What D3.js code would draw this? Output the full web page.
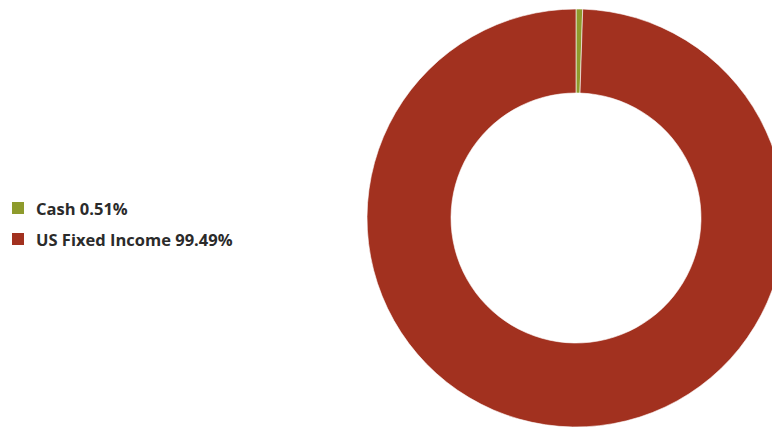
<!DOCTYPE html>
<html lang="en">
<head>
  <meta charset="UTF-8">
  <title>Asset Allocation</title>
  <script src="https://d3js.org/d3.v7.min.js"></script>
  <style>
    body { margin: 0; background: #fff; }
    .slice path { stroke: #fff; stroke-width: 0.6; }
    .legend text { font-family: "Open Sans", sans-serif; font-weight: 700; font-size: 16.5px; fill: #2b2b2b; }
  </style>
</head>
<body>
  <svg id="chart" width="772" height="427"></svg>

  <script>
    // Data
    const labels = ["Cash", "US Fixed Income"];
    const values = [0.51, 99.49];
    const colors = ["#8e9b2c", "#a2311f"];

    const width = 772;
    const height = 427;
    const cx = 576, cy = 218;
    const outerR = 209, innerR = 125;

    const svg = d3.select("#chart")
      .attr("width", width)
      .attr("height", height);

    const pie = d3.pie().sort(null).value((d) => d);
    const arc = d3.arc().innerRadius(innerR).outerRadius(outerR);

    // Donut
    svg.append("g")
      .attr("class", "slice")
      .attr("transform", "translate(" + cx + "," + cy + ")")
      .selectAll("path")
      .data(pie(values))
      .enter()
      .append("path")
      .attr("d", arc)
      .style("fill", (d, i) => colors[i]);

    // Legend
    const legend = svg.append("g")
      .attr("class", "legend")
      .attr("transform", "translate(12,202)");

    const item = legend.selectAll("g")
      .data(labels)
      .enter()
      .append("g")
      .attr("transform", (d, i) => "translate(0," + i * 31 + ")");

    item.append("rect")
      .attr("width", 12)
      .attr("height", 12)
      .style("fill", (d, i) => colors[i]);

    item.append("text")
      .attr("x", 24)
      .attr("y", 13)
      .text((d, i) => d + " " + values[i].toFixed(2) + "%");
  </script>
</body>
</html>
